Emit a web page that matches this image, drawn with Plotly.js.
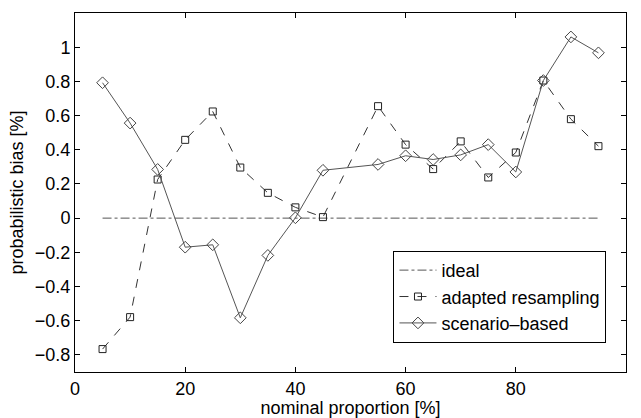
<!DOCTYPE html>
<html><head><meta charset="utf-8">
<script src="https://cdn.plot.ly/plotly-3.0.1.min.js"></script>
<style>html,body{margin:0;padding:0;background:#fff}#chart{width:641px;height:418px}</style>
</head><body><div id="chart"></div>
<script>
const nominal = [5,10,15,20,25,30,35,40,45,55,60,65,70,75,80,85,90,95];
const idealX = [5,95];
const idealY = [0,0];
const adaptedResampling = [-0.766,-0.579,0.226,0.458,0.624,0.296,0.148,0.063,0.006,0.655,0.43,0.287,0.449,0.238,0.384,0.805,0.579,0.421];
const scenarioBased = [0.792,0.556,0.285,-0.17,-0.156,-0.583,-0.218,0.002,0.28,0.314,0.365,0.343,0.37,0.43,0.27,0.805,1.06,0.967];
const xTicks = [0,20,40,60,80,100];
const yTicks = [-0.8,-0.6,-0.4,-0.2,0,0.2,0.4,0.6,0.8,1];

const font = {family:'"Liberation Sans", Arial, sans-serif', size:18, color:'#000'};
const traces = [
  {x:idealX, y:idealY, name:'ideal', mode:'lines', line:{color:'#555', width:1, dash:'dashdot'}},
  {x:nominal, y:adaptedResampling, name:'adapted resampling', mode:'lines+markers',
   line:{color:'#333', width:1, dash:'dash'},
   marker:{symbol:'square-open', size:7, color:'#222', line:{width:1}}},
  {x:nominal, y:scenarioBased, name:'scenario\u2013based', mode:'lines+markers',
   line:{color:'#555', width:1},
   marker:{symbol:'diamond-open', size:9, color:'#444', line:{width:1}}}
];
const axBase = {showline:true, linecolor:'#000', linewidth:1, mirror:'ticks', ticks:'inside',
  ticklen:5, tickcolor:'#000', showgrid:false, zeroline:false, tickfont:font};
const layout = {
  width:641, height:418, margin:{l:75, r:15, t:13, b:46},
  paper_bgcolor:'#fff', plot_bgcolor:'#fff', font:font, showlegend:true,
  xaxis:Object.assign({}, axBase, {range:[0,100], tickvals:xTicks, ticktext:xTicks.map(String),
    title:{text:'nominal proportion [%]', font:font, standoff:0}}),
  yaxis:Object.assign({}, axBase, {range:[-0.9,1.2], tickvals:yTicks,
    ticktext:yTicks.map(v => v<0 ? '\u2212'+Math.abs(v) : String(v)),
    title:{text:'probabilistic bias [%]', font:font, standoff:6}}),
  legend:{x:0.578, y:0.081, xanchor:'left', yanchor:'bottom', bgcolor:'#fff',
    bordercolor:'#000', borderwidth:1, font:font, tracegroupgap:0, itemwidth:37}
};
Plotly.newPlot('chart', traces, layout, {displayModeBar:false, staticPlot:true});
</script></body></html>
